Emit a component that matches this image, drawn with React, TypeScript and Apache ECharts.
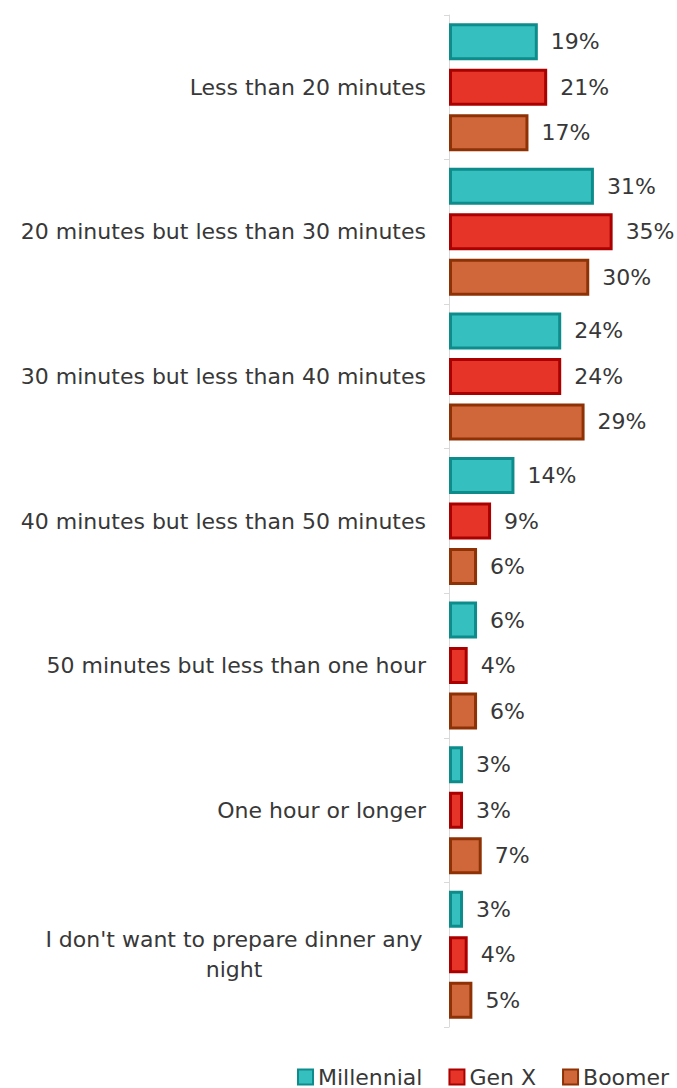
import React, { useEffect, useRef } from "react";
import * as echarts from "echarts";

const categories = [
  "Less than 20 minutes",
  "20 minutes but less than 30 minutes",
  "30 minutes but less than 40 minutes",
  "40 minutes but less than 50 minutes",
  "50 minutes but less than one hour",
  "One hour or longer",
  "I don't want to prepare dinner any night",
];

const millennial = [19, 31, 24, 14, 6, 3, 3];
const genX = [21, 35, 24, 9, 4, 3, 4];
const boomer = [17, 30, 29, 6, 6, 7, 5];

const seriesNames = ["Millennial", "Gen X", "Boomer"];

const FONT = "DejaVu Sans";
const TEXT = "#383838";

export default function App() {
  const ref = useRef<HTMLDivElement>(null);

  useEffect(() => {
    if (!ref.current) return;
    const chart = echarts.init(ref.current, null, { renderer: "svg" });

    const styles = [
      { fill: "#35bfbf", border: "#0e8c8c" },
      { fill: "#e63428", border: "#aa0000" },
      { fill: "#d0673b", border: "#8e3205" },
    ];
    const data = [millennial, genX, boomer];

    // The last category wraps onto two centred lines
    const lastCat = categories[categories.length - 1];
    const splitAt = lastCat.lastIndexOf(" ");

    chart.setOption({
      animation: false,
      grid: { left: 449, right: 41, top: 15, bottom: 61, containLabel: false },
      xAxis: {
        type: "value",
        min: 0,
        max: 40,
        show: false,
        splitLine: { show: false },
      },
      yAxis: {
        type: "category",
        inverse: true,
        data: categories,
        axisLine: { show: true, lineStyle: { color: "#d9d9d9", width: 1 } },
        axisTick: { show: true, length: 5, lineStyle: { color: "#d9d9d9" } },
        axisLabel: {
          margin: 23,
          color: TEXT,
          fontFamily: FONT,
          fontSize: 22,
          lineHeight: 30,
          formatter: (v: string) =>
            v === lastCat
              ? `{c|${v.slice(0, splitAt)}}\n{c|${v.slice(splitAt + 1)}}`
              : v,
          rich: {
            c: {
              width: 384,
              align: "center",
              color: TEXT,
              fontFamily: FONT,
              fontSize: 22,
              lineHeight: 30,
            },
          },
        },
      },
      legend: {
        left: 292,
        top: 1061,
        itemWidth: 15,
        itemHeight: 15,
        itemGap: 26,
        icon: "rect",
        textStyle: { color: TEXT, fontFamily: FONT, fontSize: 22 },
        data: seriesNames,
      },
      series: seriesNames.map((name, i) => ({
        name,
        type: "bar",
        data: data[i],
        barWidth: 37,
        barGap: "23%",
        itemStyle: {
          color: styles[i].fill,
          borderColor: styles[i].border,
          borderWidth: 3,
        },
        label: {
          show: true,
          position: "right",
          distance: 13,
          formatter: "{c}%",
          color: TEXT,
          fontFamily: FONT,
          fontSize: 22,
        },
      })),
    });

    return () => chart.dispose();
  }, []);

  return (
    <div
      ref={ref}
      style={{ position: "absolute", left: 0, top: 0, width: 677, height: 1088 }}
    />
  );
}
